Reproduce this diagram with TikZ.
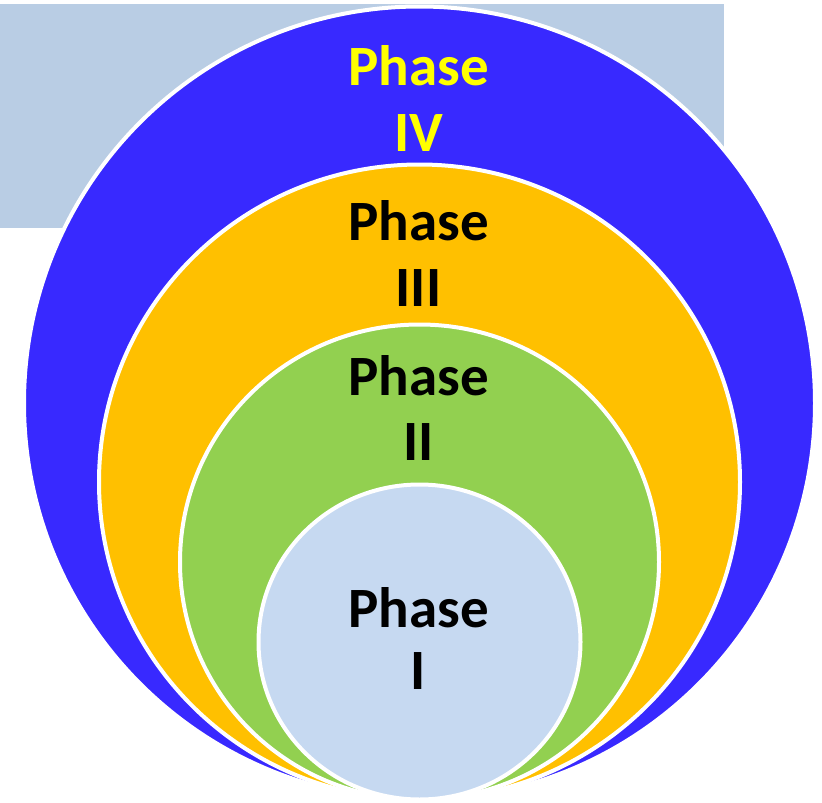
\documentclass[tikz,border=0pt]{standalone}
\usepackage{fontspec}
\setmainfont{Carlito}
\usetikzlibrary{shapes.geometric}
\definecolor{bgrect}{HTML}{B9CDE4}
\definecolor{phfour}{RGB}{56,41,255}
\definecolor{phthree}{HTML}{FFC000}
\definecolor{phtwo}{HTML}{92D050}
\definecolor{phone}{HTML}{C6D9F1}
\definecolor{labyellow}{HTML}{FFFF00}
\tikzset{
  ring/.style={ellipse, draw=white, line width=4pt, inner sep=0pt, outer sep=0pt},
  lab/.style={anchor=base, inner sep=0pt, font=\fontsize{57}{62}\selectfont\bfseries}
}
\begin{document}
\begin{tikzpicture}[x=1pt,y=-1pt]
\useasboundingbox (0,0) rectangle (822,803);
\fill[bgrect] (0,4) rectangle (724,228);
\node[ring, fill=phfour, minimum width=791pt, minimum height=793pt] (c4) at (419.5,403) {};
\node[ring, fill=phthree, minimum width=641pt, minimum height=635pt] (c3) at (419.5,482) {};
\node[ring, fill=phtwo, minimum width=479pt, minimum height=475pt] (c2) at (419.5,562) {};
\node[ring, fill=phone, minimum width=322pt, minimum height=315pt] (c1) at (419.5,642) {};
\node[lab, text=labyellow] (t4a) at (418.5,85) {Phase};
\node[lab, text=labyellow] (t4b) at (418.5,151) {IV};
\node[lab] (t3a) at (418.5,240) {Phase};
\node[lab] (t3b) at (418.5,306) {III};
\node[lab] (t2a) at (418.5,395) {Phase};
\node[lab] (t2b) at (418.5,460) {II};
\node[lab] (t1a) at (418.5,627) {Phase};
\node[lab] (t1b) at (418.5,689) {I};
\end{tikzpicture}
\end{document}
